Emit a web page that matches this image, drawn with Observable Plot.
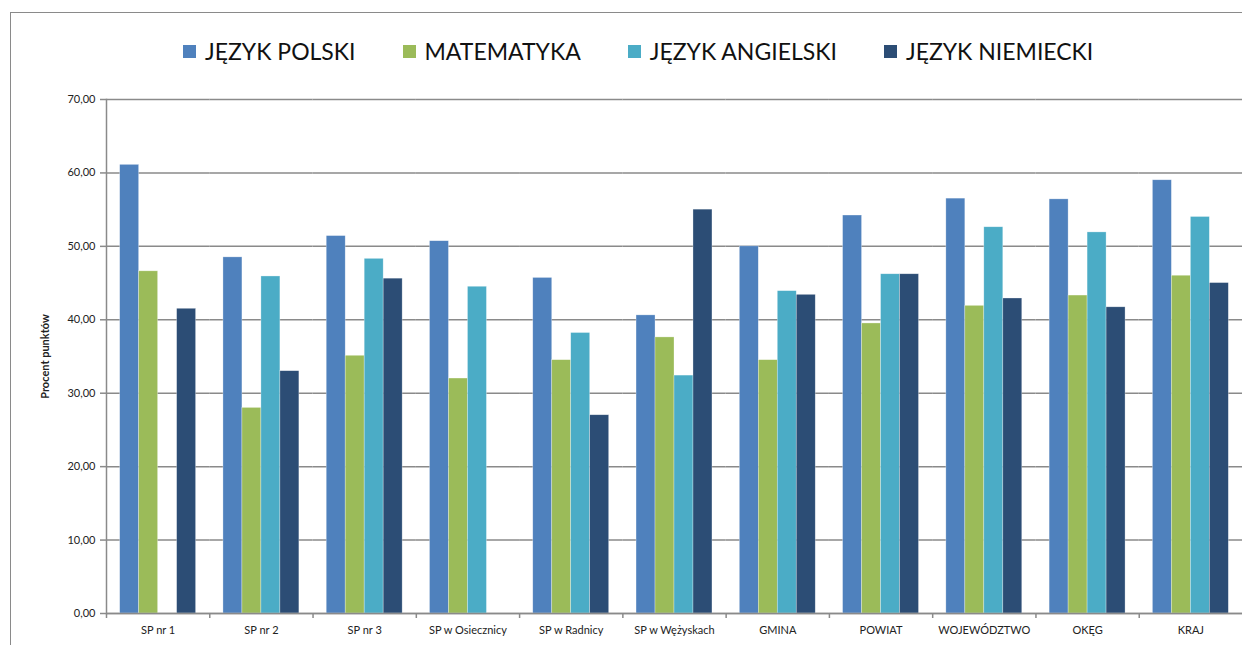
<!DOCTYPE html>
<html>
<head>
<meta charset="utf-8">
<script src="https://cdn.jsdelivr.net/npm/d3@7"></script>
<script src="https://cdn.jsdelivr.net/npm/@observablehq/plot@0.6"></script>
<style>
  html, body { margin: 0; padding: 0; background: #fff; overflow: hidden; width: 1242px; height: 645px; }
  body { position: relative; font-family: Lato, "Open Sans", sans-serif; }
  #frame { position: absolute; left: 10px; top: 12px; width: 1400px; height: 800px; border: 1px solid #8a8a8a; box-sizing: border-box; pointer-events: none; }
  #legend { position: relative; height: 80px; }
  #legend .items { position: absolute; left: 183px; top: 37px; display: flex; align-items: center; gap: 47px; font-size: 23px; color: #111; white-space: nowrap; }
  #legend .item { display: flex; align-items: center; }
  #legend .sw { width: 13px; height: 13px; margin-right: 9px; }
  #chart svg { display: block; }
  #chart svg g[aria-label="y-axis label"] text, #chart svg g[aria-label="y-axis label"] { font-weight: bold; font-size: 11px; }
</style>
</head>
<body>
<div id="frame"></div>
<div id="legend"><div class="items"></div></div>
<div id="chart"></div>
<script>
const categories = ["SP nr 1", "SP nr 2", "SP nr 3", "SP w Osiecznicy", "SP w Radnicy", "SP w Wężyskach", "GMINA", "POWIAT", "WOJEWÓDZTWO", "OKĘG", "KRAJ"];
const seriesNames = ["JĘZYK POLSKI", "MATEMATYKA", "JĘZYK ANGIELSKI", "JĘZYK NIEMIECKI"];
const seriesColors = ["#4F81BD", "#9BBB59", "#4BACC6", "#2C4D75"];
const polski    = [61.1, 48.5, 51.4, 50.7, 45.7, 40.6, 50.0, 54.2, 56.5, 56.4, 59.0];
const matematyka = [46.6, 28.0, 35.1, 32.0, 34.5, 37.6, 34.5, 39.5, 41.9, 43.3, 46.0];
const angielski = [null, 45.9, 48.3, 44.5, 38.2, 32.4, 43.9, 46.2, 52.6, 51.9, 54.0];
const niemiecki = [41.5, 33.0, 45.6, null, 27.0, 55.0, 43.4, 46.2, 42.9, 41.7, 45.0];
const yTicks = [0, 10, 20, 30, 40, 50, 60, 70];

const seriesValues = [polski, matematyka, angielski, niemiecki];
const data = [];
categories.forEach((c, i) => {
  seriesNames.forEach((s, j) => {
    const v = seriesValues[j][i];
    if (v != null) data.push({category: c, series: s, value: v});
  });
});

// legend
const items = d3.select("#legend .items");
seriesNames.forEach((s, j) => {
  const it = items.append("div").attr("class", "item");
  it.append("div").attr("class", "sw").style("background", seriesColors[j]);
  it.append("span").text(s);
});

const W = 1242, H = 565;
const mL = 106, mR = 0, mT = 19, mB = 32;
const step = (W - mL - mR) / categories.length;
const fmt = d => d3.format(".2f")(d).replace(".", ",");

const chart = Plot.plot({
  width: W,
  height: H,
  marginLeft: mL,
  marginRight: mR,
  marginTop: mT,
  marginBottom: mB,
  style: {fontFamily: "Lato, 'Open Sans', sans-serif", fontSize: "11px", color: "#222", background: "white"},
  fx: {domain: categories, padding: 0, round: false, axis: null, label: null},
  x: {domain: seriesNames, paddingInner: 0, paddingOuter: 0.72, round: false, axis: null},
  y: {domain: [0, 70], axis: null},
  color: {domain: seriesNames, range: seriesColors},
  marks: [
    Plot.gridY(yTicks, {stroke: "#8a8a8a", strokeOpacity: 1, strokeWidth: 1.5}),
    Plot.barY(data, {fx: "category", x: "series", y: "value", fill: "series", stroke: "#ffffff", strokeOpacity: 0.5, strokeWidth: 0.6}),
    Plot.ruleY([0], {stroke: "#8a8a8a", strokeWidth: 1.5}),
    Plot.frame({anchor: "left", fx: categories[0], stroke: "#8a8a8a", strokeWidth: 1.5}),
    Plot.axisY({ticks: yTicks, tickFormat: fmt, tickSize: 6, tickPadding: 5, stroke: "#8a8a8a", strokeWidth: 1.5, label: "Procent punktów", labelArrow: "none", labelAnchor: "center", labelOffset: 65}),
    Plot.axisFx({anchor: "bottom", tickSize: 0, tickPadding: 13, fontSize: 11, label: null}),
    Plot.axisFx({anchor: "bottom", tickSize: 5, tickFormat: () => "", label: null, dx: -step / 2, stroke: "#8a8a8a", strokeWidth: 1.5})
  ]
});
document.getElementById("chart").appendChild(chart);
</script>
</body>
</html>
